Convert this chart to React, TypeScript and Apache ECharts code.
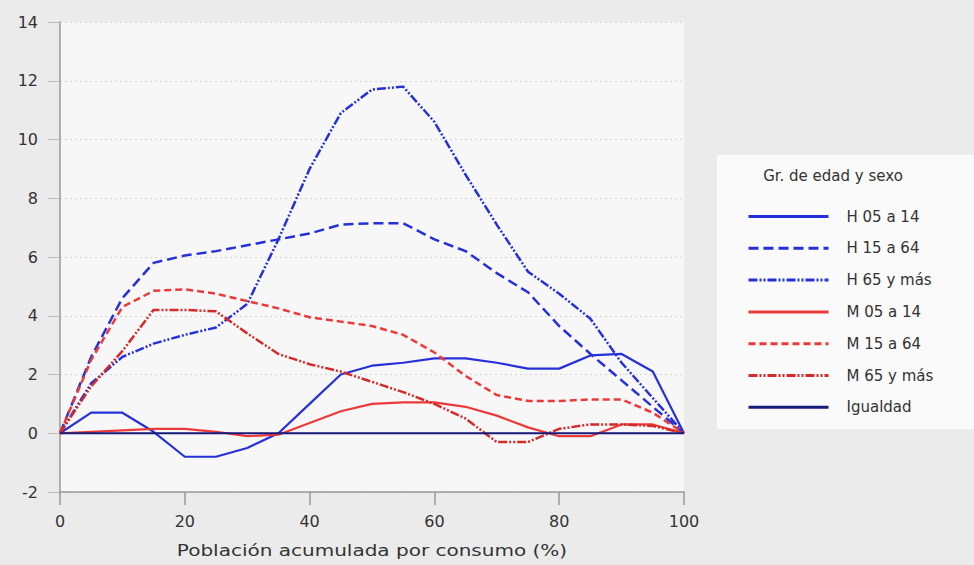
import React, { useEffect, useRef } from "react";
import * as echarts from "echarts";

const xValues = [0, 5, 10, 15, 20, 25, 30, 35, 40, 45, 50, 55, 60, 65, 70, 75, 80, 85, 90, 95, 100];
const h0514 = [0, 0.7, 0.7, 0.05, -0.8, -0.8, -0.5, 0.0, 1.0, 2.0, 2.3, 2.4, 2.55, 2.55, 2.4, 2.2, 2.2, 2.65, 2.7, 2.1, 0];
const h1564 = [0, 2.6, 4.6, 5.8, 6.05, 6.2, 6.4, 6.6, 6.8, 7.1, 7.15, 7.15, 6.6, 6.2, 5.45, 4.8, 3.65, 2.7, 1.8, 0.9, 0];
const h65 = [0, 1.7, 2.6, 3.05, 3.35, 3.6, 4.4, 6.6, 9.0, 10.9, 11.7, 11.8, 10.6, 8.8, 7.1, 5.5, 4.75, 3.9, 2.4, 1.2, 0];
const m0514 = [0, 0.05, 0.1, 0.15, 0.15, 0.05, -0.1, -0.05, 0.35, 0.75, 1.0, 1.05, 1.05, 0.9, 0.6, 0.2, -0.1, -0.1, 0.3, 0.3, 0];
const m1564 = [0, 2.5, 4.3, 4.85, 4.9, 4.75, 4.5, 4.25, 3.95, 3.8, 3.65, 3.35, 2.75, 1.95, 1.3, 1.1, 1.1, 1.15, 1.15, 0.7, 0];
const m65 = [0, 1.6, 2.8, 4.2, 4.2, 4.15, 3.4, 2.7, 2.35, 2.1, 1.75, 1.4, 1.0, 0.5, -0.3, -0.3, 0.15, 0.3, 0.3, 0.25, 0];
const igualdad = xValues.map(() => 0);

const seriesNames = ["H 05 a 14", "H 15 a 64", "H 65 y más", "M 05 a 14", "M 15 a 64", "M 65 y más", "Igualdad"];
const legendTitle = "Gr. de edad y sexo";
const xAxisName = "Población acumulada por consumo (%)";

const BLUE = "#2630d8";
const RED = "#ec3a3a";
const DARKRED = "#d42a2a";
const NAVY = "#161a78";

export default function App() {
  const ref = useRef<HTMLDivElement>(null);
  useEffect(() => {
    if (!ref.current) return;
    const chart = echarts.init(ref.current, undefined, { renderer: "svg" });
    const mk = (name: string, vals: number[], color: string, type: any, width = 2.2) => ({
      name,
      type: "line",
      data: xValues.map((x, i) => [x, vals[i]]),
      showSymbol: false,
      symbol: "none",
      smooth: false,
      lineStyle: { color, width, type },
      itemStyle: { color },
    });
    const font = "DejaVu Sans, Verdana, sans-serif";
    chart.setOption({
      animation: false,
      backgroundColor: "#ebebeb",
      textStyle: { fontFamily: font },
      grid: { left: 60, right: 290, top: 22, bottom: 73, show: true, backgroundColor: "#f7f7f7", borderWidth: 0 },
      xAxis: {
        type: "value",
        min: 0,
        max: 100,
        interval: 20,
        axisLine: { show: true, onZero: false, lineStyle: { color: "#999", width: 1.5 } },
        axisTick: { show: true, length: 13, lineStyle: { color: "#999", width: 1.5 } },
        axisLabel: { color: "#333", fontSize: 16, margin: 21, fontFamily: font },
        splitLine: { show: false },
      },
      yAxis: {
        type: "value",
        min: -2,
        max: 14,
        interval: 2,
        axisLine: { show: true, lineStyle: { color: "#999", width: 1.5 } },
        axisTick: { show: true, length: 12, lineStyle: { color: "#bbb", width: 1 } },
        axisLabel: { color: "#333", fontSize: 16, margin: 22, fontFamily: font },
        splitLine: { show: true, lineStyle: { color: "#d4d4d4", type: [2, 3], width: 1 } },
      },
      legend: {
        orient: "vertical",
        left: 742,
        top: 204,
        itemWidth: 80,
        itemHeight: 14,
        itemGap: 16.8,
        itemStyle: { opacity: 0 },
        lineStyle: { width: 3 },
        textStyle: { color: "#333", fontSize: 15, padding: [0, 0, 0, 13], fontFamily: font },
        data: seriesNames,
      },
      graphic: [
        { type: "rect", left: 717, top: 155, shape: { width: 257, height: 274 }, style: { fill: "#fafafa" }, z: -1 },
        {
          type: "text",
          x: 833,
          y: 176,
          style: { text: legendTitle, fill: "#333", fontSize: 15, fontFamily: font, align: "center", verticalAlign: "middle" },
        },
        {
          type: "text",
          x: 372,
          y: 550,
          scaleX: 1.25,
          style: { text: xAxisName, fill: "#333", fontSize: 16, fontFamily: font, align: "center", verticalAlign: "middle" },
        },
      ],
      series: [
        mk(seriesNames[0], h0514, BLUE, "solid"),
        mk(seriesNames[1], h1564, BLUE, [10, 5], 2.5),
        mk(seriesNames[2], h65, BLUE, [9, 2, 2, 2, 2, 2], 2.5),
        mk(seriesNames[3], m0514, RED, "solid"),
        mk(seriesNames[4], m1564, RED, [7, 4], 2.5),
        mk(seriesNames[5], m65, DARKRED, [9, 2, 2, 2, 2, 2], 2.5),
        mk(seriesNames[6], igualdad, NAVY, "solid"),
      ],
    });
    return () => chart.dispose();
  }, []);
  return <div ref={ref} style={{ position: "fixed", left: 0, top: 0, width: 974, height: 565 }} />;
}
